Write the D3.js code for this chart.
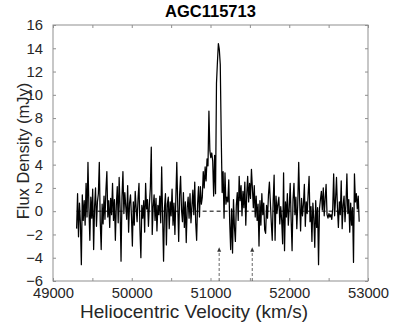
<!DOCTYPE html>
<html>
<head>
<meta charset="utf-8">
<script src="https://cdn.jsdelivr.net/npm/d3@7"></script>
<style>
body { margin: 0; background: #fff; }
svg { display: block; font-family: "Liberation Sans", Arial, Helvetica, sans-serif; }
</style>
</head>
<body>
<div id="chart"></div>
<script>
// spectrum of AGC115713, one value per channel
var title = "AGC115713";
var xLabel = "Heliocentric Velocity (km/s)";
var yLabel = "Flux Density (mJy)";
var velStart = 49300, velStep = 12;
var flux = [
	-1.5, 1.5, -2.2, 0.7, -1.0, -4.6, 1.4, -0.8, 0.9, -1.2,
	2.4, -0.5, 4.2, 0.3, -2.5, 1.2, -0.6, 1.9, -3.3, 0.4,
	2.0, -1.3, 0.8, 1.5, 4.2, -0.9, -3.3, 0.6, -1.1, 1.3,
	-0.7, 1.8, 3.4, -0.5, 0.9, -1.4, 1.1, -0.3, 2.4, -0.8,
	1.0, -2.5, 0.5, 2.1, -1.0, 2.9, 0.2, -4.3, 1.2, 3.4,
	-0.2, 1.6, 0.4, -0.7, 2.2, -1.8, 0.7, 1.4, -0.4, -3.0,
	0.8, -1.2, 1.7, 0.3, -0.9, 1.1, 2.4, -1.6, -4.0, 0.5,
	-0.6, 0.9, -1.8, 2.4, 0.2, 1.0, -1.3, 0.6, 2.0, 5.5,
	-2.0, 0.4, 1.4, -0.8, 1.1, -1.7, 0.5, -0.3, 1.3, -1.0,
	3.8, -0.5, -4.3, 0.3, 1.5, -2.9, 0.6, 1.2, -1.5, 0.8,
	-0.4, 1.9, -1.2, 0.7, -2.0, 1.1, 4.2, 0.5, -2.6, 1.4,
	3.0, 0.1, -0.9, 1.6, -1.4, 0.8, -2.7, 0.3, 1.2, -0.6,
	1.5, -1.0, 0.4, 1.8, -0.3, 2.5, -1.0, -2.5, 0.6, 2.1,
	-0.5, 2.1, 0.6, 1.2, 3.4, 2.0, 3.8, 2.6, 4.5, 3.9,
	8.6, 5.2, 4.6, 5.0, 4.3, 1.3, 4.8, 1.5, 11.0, 12.8,
	14.4, 13.9, 12.6, 6.5, 1.6, 3.4, -0.6, 3.3, 0.6, 1.2,
	0.8, 2.7, -1.0, -3.3, 0.2, -3.6, 1.0, -1.4, -2.6, 0.5,
	1.6, -0.8, 3.0, 0.9, 2.2, -0.4, 1.7, 0.3, 2.5, -1.2,
	1.4, 3.0, 0.8, 2.4, 1.1, 3.6, 2.0, 0.3, 2.2, -0.5,
	1.3, -0.8, 0.6, -3.0, 0.9, -1.2, 1.5, -0.3, 0.7, -1.6,
	-1.9, 0.5, -0.6, 1.4, 2.5, 0.8, -1.0, -2.5, 0.9, 3.1,
	-2.5, 1.3, -0.2, 0.6, 1.2, -1.1, 0.4, -0.8, -2.8, 3.3,
	-3.4, 0.8, -0.5, 1.5, -1.2, 0.3, 2.4, -0.7, -3.4, 1.0,
	2.4, -0.3, 1.2, -1.5, 0.6, 4.2, 0.9, -1.7, 1.1, -0.4,
	0.6, 2.3, -1.3, 0.8, -0.2, 1.5, 3.0, -0.9, 0.4, -2.6,
	0.7, -0.6, -3.1, 0.9, -1.4, 0.3, -4.6, 0.2, 1.0, 1.7,
	0.1, 2.0, -0.4, 1.1, 2.3, -0.3, -0.6, -0.2, -0.5, -0.3,
	-0.7, 0.2, 3.2, -0.4, 1.0, 2.9, 0.3, -1.4, 0.8, -0.3,
	2.6, -1.5, 0.5, 1.3, -0.9, 0.6, 3.2, -0.2, 1.0, -1.8,
	0.7, -1.2, 0.3, -4.4, 3.2, 0.8, 1.5, 0.2, 1.3, -0.9
];
var xTicks = [49000, 49500, 50000, 50500, 51000, 51500, 52000, 52500, 53000];
var yTicks = [-6, -4, -2, 0, 2, 4, 6, 8, 10, 12, 14, 16];
var arrowVel = [51110, 51530];
var arrowTop = -3.1;

var W = 407, H = 326;
var margin = {left: 53, right: 39, top: 25, bottom: 45};
var w = W - margin.left - margin.right,
	h = H - margin.top - margin.bottom;

var data = flux.map(function (f, i) {
	return {v: velStart + i * velStep, f: f};
});

var x = d3.scaleLinear().domain([49000, 53000]).range([0, w]);
var y = d3.scaleLinear().domain([-6, 16]).range([h, 0]);

var svg = d3.select("#chart").append("svg")
	.attr("width", W).attr("height", H);
var g = svg.append("g")
	.attr("transform", "translate(" + margin.left + "," + margin.top + ")");

var axisColor = "#8f8f8f", textColor = "#262626";

function styleAxis(sel) {
	sel.select(".domain").remove();
	sel.selectAll(".tick line").attr("stroke", axisColor);
	sel.selectAll(".tick text").attr("fill", textColor)
		.style("font-size", "14.8px").style("font-family", "inherit");
}

g.append("g").attr("transform", "translate(0," + h + ")")
	.call(d3.axisBottom(x).tickValues(xTicks).tickSizeInner(-3).tickSizeOuter(0)
		.tickPadding(6).tickFormat(function (d) { return d % 1000 ? "" : d; }))
	.call(styleAxis);
g.append("g")
	.call(d3.axisTop(x).tickValues(xTicks).tickSizeInner(-3).tickSizeOuter(0)
		.tickFormat(""))
	.call(styleAxis);
g.append("g")
	.call(d3.axisLeft(y).tickValues(yTicks).tickSizeInner(-3).tickSizeOuter(0)
		.tickPadding(10))
	.call(styleAxis);
g.append("g").attr("transform", "translate(" + w + ",0)")
	.call(d3.axisRight(y).tickValues(yTicks).tickSizeInner(-3).tickSizeOuter(0)
		.tickFormat(""))
	.call(styleAxis);

g.append("rect")
	.attr("width", w).attr("height", h)
	.attr("fill", "none").attr("stroke", axisColor).attr("stroke-width", 1);

// baseline at zero
g.append("line")
	.attr("x1", x(data[0].v)).attr("x2", x(data[data.length - 1].v))
	.attr("y1", y(0)).attr("y2", y(0))
	.attr("stroke", "#000").attr("stroke-width", 1)
	.attr("stroke-dasharray", "4,3");

var line = d3.line()
	.x(function (d) { return x(d.v); })
	.y(function (d) { return y(d.f); });

g.append("path").datum(data)
	.attr("d", line)
	.attr("fill", "none")
	.attr("stroke", "#000")
	.attr("stroke-width", 1.25)
	.attr("stroke-linejoin", "round");

// markers for the velocity limits
var arrows = g.selectAll(".arrow").data(arrowVel).enter().append("g")
	.attr("class", "arrow");
arrows.append("line")
	.attr("x1", function (d) { return x(d); })
	.attr("x2", function (d) { return x(d); })
	.attr("y1", y(-6)).attr("y2", y(arrowTop) + 3)
	.attr("stroke", "#555").attr("stroke-width", 0.9)
	.attr("stroke-dasharray", "3,2");
arrows.append("path")
	.attr("d", function (d) {
		var px = x(d), py = y(arrowTop);
		return "M" + px + "," + py + "L" + (px - 2) + "," + (py + 4.5) +
			"L" + (px + 2) + "," + (py + 4.5) + "Z";
	})
	.attr("fill", "#333");

svg.append("text")
	.attr("x", margin.left + w / 2).attr("y", 17)
	.attr("text-anchor", "middle")
	.style("font-size", "16.5px").style("font-weight", "bold")
	.attr("fill", "#000")
	.text(title);

svg.append("text")
	.attr("x", 194).attr("y", 318)
	.attr("text-anchor", "middle")
	.style("font-size", "19px")
	.attr("fill", textColor)
	.text(xLabel);

svg.append("text")
	.attr("transform", "translate(28.5," + (margin.top + h / 2 - 2) + ") rotate(-90)")
	.attr("text-anchor", "middle")
	.style("font-size", "16.5px")
	.attr("fill", textColor)
	.text(yLabel);
</script>
</body>
</html>
